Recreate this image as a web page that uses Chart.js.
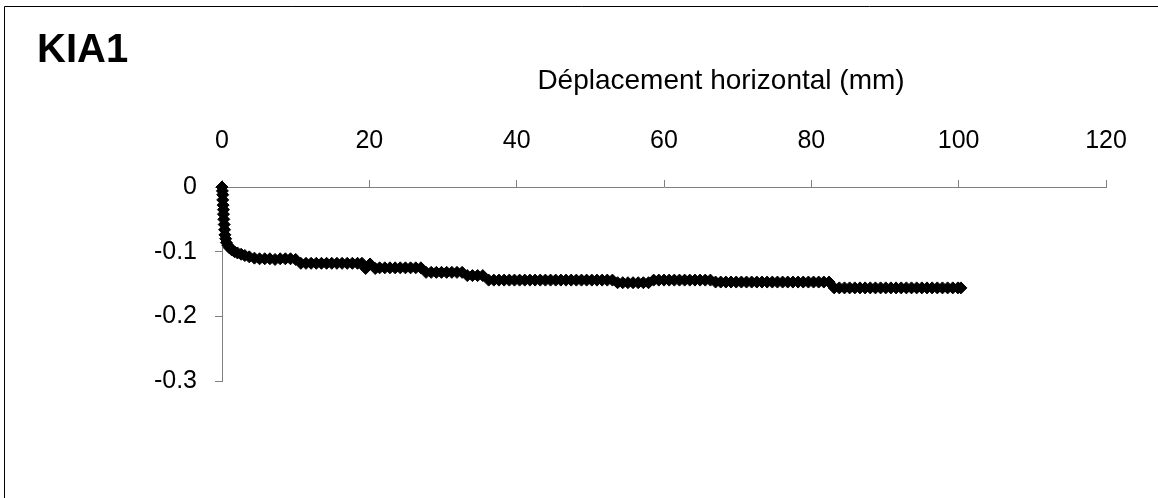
<!DOCTYPE html>
<html>
<head>
<meta charset="utf-8">
<script src="https://cdn.jsdelivr.net/npm/chart.js@4/dist/chart.umd.min.js"></script>
<style>
  body { margin: 0; background: #fff; }
  #wrap { position: absolute; left: 0; top: 0; width: 1158px; height: 498px; }
</style>
</head>
<body>
<div id="wrap"><canvas id="kiaChart" width="1158" height="498"></canvas></div>
<script>
// Chart texts
var chartTitle = 'KIA1';
var xAxisTitle = 'Déplacement horizontal (mm)';

// Axis ticks
var xTicks = [0, 20, 40, 60, 80, 100, 120];
var yTicks = [0, -0.1, -0.2, -0.3];

// Horizontal displacement (mm)
var dispX = [
  0, 0.05, 0.1, 0.1, 0.15, 0.2, 0.2, 0.25, 0.3, 0.35, 0.4, 0.5, 0.6, 0.8, 1.0, 1.3, 1.7, 2.1, 2.6, 3.1, 3.7, 4.4,
  5.1, 5.8, 6.5, 7.2, 7.9, 8.6, 9.3, 10.0,
  10.7, 11.4, 12.1, 12.8, 13.5, 14.2, 14.9, 15.6, 16.3, 17.0, 17.7, 18.4, 19.0,
  19.5, 20.1, 20.8,
  21.4, 22.1, 22.8, 23.5, 24.2, 24.9, 25.6, 26.3, 27.0,
  27.7, 28.4, 29.1, 29.8, 30.5, 31.2, 31.9, 32.6,
  33.3, 34.0, 34.7, 35.4,
  36.2, 36.9, 37.6, 38.3, 39.0, 39.7, 40.4, 41.1, 41.8, 42.5, 43.2, 43.9, 44.6, 45.3, 46.0, 46.7, 47.4, 48.1, 48.8, 49.5, 50.2, 50.9, 51.6, 52.3, 53.0,
  53.7, 54.4, 55.1, 55.8, 56.5, 57.2, 57.9,
  58.6, 59.3, 60.0, 60.7, 61.4, 62.1, 62.8, 63.5, 64.2, 64.9, 65.6, 66.3,
  67.0, 67.7, 68.4, 69.1, 69.8, 70.5, 71.2, 71.9, 72.6, 73.3, 74.0, 74.7, 75.4, 76.1, 76.8, 77.5, 78.2, 78.9, 79.6, 80.3, 81.0, 81.7, 82.4,
  83.1, 83.8, 84.5, 85.2, 85.9, 86.6, 87.3, 88.0, 88.7, 89.4, 90.1, 90.8, 91.5, 92.2, 92.9, 93.6, 94.3, 95.0, 95.7, 96.4, 97.1, 97.8, 98.5, 99.2, 99.9, 100.3
];

// Vertical displacement (mm)
var dispY = [
  0, -0.006, -0.012, -0.02, -0.028, -0.035, -0.042, -0.05, -0.058, -0.066, -0.074, -0.08, -0.086, -0.09, -0.094, -0.097, -0.1, -0.102, -0.104, -0.106, -0.108, -0.11,
  -0.111, -0.111, -0.111, -0.112, -0.111, -0.111, -0.111, -0.112,
  -0.118, -0.118, -0.118, -0.118, -0.118, -0.118, -0.118, -0.118, -0.118, -0.118, -0.118, -0.118, -0.118,
  -0.126, -0.119, -0.126,
  -0.125, -0.125, -0.125, -0.125, -0.125, -0.125, -0.125, -0.125, -0.125,
  -0.132, -0.132, -0.132, -0.132, -0.132, -0.132, -0.132, -0.132,
  -0.137, -0.137, -0.137, -0.137,
  -0.144, -0.144, -0.144, -0.144, -0.144, -0.144, -0.144, -0.144, -0.144, -0.144, -0.144, -0.144, -0.144, -0.144, -0.144, -0.144, -0.144, -0.144, -0.144, -0.144, -0.144, -0.144, -0.144, -0.144, -0.144,
  -0.148, -0.148, -0.148, -0.148, -0.148, -0.148, -0.148,
  -0.144, -0.144, -0.144, -0.144, -0.144, -0.144, -0.144, -0.144, -0.144, -0.144, -0.144, -0.144,
  -0.147, -0.147, -0.147, -0.147, -0.147, -0.147, -0.147, -0.147, -0.147, -0.147, -0.147, -0.147, -0.147, -0.147, -0.147, -0.147, -0.147, -0.147, -0.147, -0.147, -0.147, -0.147, -0.147,
  -0.156, -0.156, -0.156, -0.156, -0.156, -0.156, -0.156, -0.156, -0.156, -0.156, -0.156, -0.156, -0.156, -0.156, -0.156, -0.156, -0.156, -0.156, -0.156, -0.156, -0.156, -0.156, -0.156, -0.156, -0.156, -0.156
];

var points = dispX.map(function (x, i) { return { x: x, y: dispY[i] }; });

var fontFamily = '"Liberation Sans", Arial, sans-serif';
var axisGrey = '#808080';

// White background, outer frame, chart title and the axis title (placed off-centre like the original)
var framePlugin = {
  id: 'frame',
  beforeDraw: function (chart) {
    var ctx = chart.ctx;
    ctx.save();
    ctx.fillStyle = '#fff';
    ctx.fillRect(0, 0, chart.width, chart.height);
    ctx.strokeStyle = '#000';
    ctx.lineWidth = 1;
    ctx.beginPath();
    ctx.moveTo(4.5, chart.height);
    ctx.lineTo(4.5, 6.5);
    ctx.lineTo(chart.width, 6.5);
    ctx.stroke();
    ctx.restore();
  },
  afterDraw: function (chart) {
    var ctx = chart.ctx;
    ctx.save();
    ctx.fillStyle = '#000';
    ctx.font = 'bold 40px ' + fontFamily;
    ctx.textBaseline = 'alphabetic';
    ctx.textAlign = 'left';
    ctx.fillText(chartTitle, 37, 62);
    ctx.font = '28px ' + fontFamily;
    ctx.textAlign = 'center';
    ctx.textBaseline = 'middle';
    ctx.fillText(xAxisTitle, 721, 81);
    ctx.restore();
  }
};

var config = {
  type: 'scatter',
  data: {
    datasets: [{
      data: points,
      clip: false,
      showLine: true,
      borderColor: '#000',
      borderWidth: 1.5,
      backgroundColor: '#000',
      pointStyle: 'rectRot',
      pointRadius: 6,
      pointBorderWidth: 1,
      pointBorderColor: '#000',
      pointBackgroundColor: '#000'
    }]
  },
  options: {
    responsive: false,
    animation: false,
    events: [],
    layout: { padding: { left: 0, top: 0, right: 52, bottom: 117 } },
    plugins: { legend: { display: false }, tooltip: { enabled: false } },
    scales: {
      x: {
        type: 'linear',
        position: 'top',
        min: 0,
        max: 120,
        afterBuildTicks: function (scale) {
          scale.ticks = xTicks.map(function (v) { return { value: v }; });
        },
        afterFit: function (scale) { scale.height = 187; },
        grid: { drawOnChartArea: false, drawTicks: true, tickLength: 7, color: axisGrey },
        border: { display: true, color: axisGrey, width: 1 },
        ticks: { color: '#000', padding: 24, maxRotation: 0, font: { family: fontFamily, size: 25 } }
      },
      y: {
        type: 'linear',
        position: 'left',
        min: -0.3,
        max: 0,
        afterBuildTicks: function (scale) {
          scale.ticks = yTicks.map(function (v) { return { value: v }; });
        },
        afterFit: function (scale) { scale.width = 222; },
        grid: { drawOnChartArea: false, drawTicks: true, tickLength: 7, color: axisGrey },
        border: { display: true, color: axisGrey, width: 1 },
        ticks: {
          color: '#000',
          padding: 18,
          font: { family: fontFamily, size: 25 },
          callback: function (v) { return String(Math.round(v * 10) / 10); }
        }
      }
    }
  },
  plugins: [framePlugin]
};

var myChart = new Chart(document.getElementById('kiaChart'), config);
</script>
</body>
</html>
